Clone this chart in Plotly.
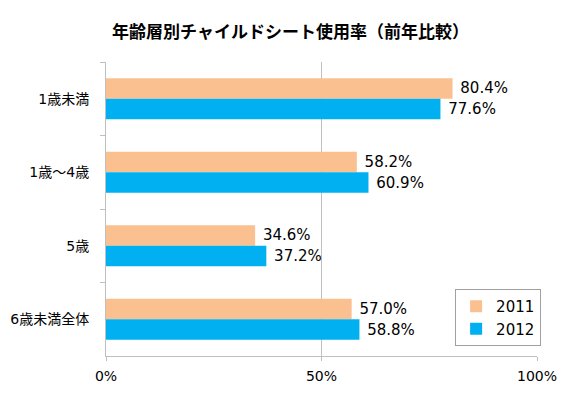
import plotly.graph_objects as go

categories = ["1歳未満", "1歳～4歳", "5歳", "6歳未満全体"]
series_names = ["2011", "2012"]
values_2011 = [80.4, 58.2, 34.6, 57.0]
values_2012 = [77.6, 60.9, 37.2, 58.8]
x_ticks = [0, 50, 100]
x_tick_labels = ["0%", "50%", "100%"]
title = "年齢層別チャイルドシート使用率（前年比較）"

FONT = "DejaVu Sans, Noto Sans CJK JP, sans-serif"
colors = ["#FAC090", "#00B0F0"]

# page body has an 8px margin; figure is sized to sit in the window
W, H = 565, 385

fig = go.Figure()
for name, vals, col in zip(series_names, [values_2011, values_2012], colors):
    fig.add_trace(go.Bar(
        name=name, y=categories, x=vals, orientation="h",
        marker=dict(color=col, line=dict(width=0)),
        text=[f" {v:.1f}%" for v in vals], textposition="outside",
        textfont=dict(size=15, color="#000000", family=FONT),
        cliponaxis=False,
    ))

fig.update_layout(
    width=W, height=H,
    margin=dict(l=98, r=36, t=54, b=37, autoexpand=False),
    paper_bgcolor="white", plot_bgcolor="white",
    barmode="group", bargap=0.44, bargroupgap=0,
    font=dict(family=FONT, size=14, color="#000000"),
    title=dict(text="<b>" + title + "</b>", x=0.5, xanchor="center", y=1 - 24 / H, yanchor="middle",
               font=dict(size=17, family="Noto Sans CJK JP, sans-serif", color="#000000")),
    showlegend=True,
    legend=dict(x=0.81, y=(348 - 281) / 294, xanchor="left", yanchor="top",
                bordercolor="#A0A0A0", borderwidth=1, bgcolor="white",
                font=dict(size=15), itemwidth=30, tracegroupgap=0),
)
fig.update_xaxes(range=[0, 100], tickvals=x_ticks, ticktext=x_tick_labels,
                 showgrid=True, gridcolor="#BFBFBF", gridwidth=1,
                 showline=True, linecolor="#BFBFBF", linewidth=1,
                 ticks="outside", ticklen=4, tickcolor="#BFBFBF", automargin=False,
                 zeroline=False, tickfont=dict(size=14), ticklabelstandoff=3)
fig.update_yaxes(autorange="reversed", showline=True, linecolor="#BFBFBF", linewidth=1,
                 ticks="outside", ticklen=5, tickcolor="#BFBFBF", tickson="boundaries",
                 automargin=False,
                 showgrid=False, tickfont=dict(size=14), ticklabelstandoff=13)

fig.write_html("out.html")
